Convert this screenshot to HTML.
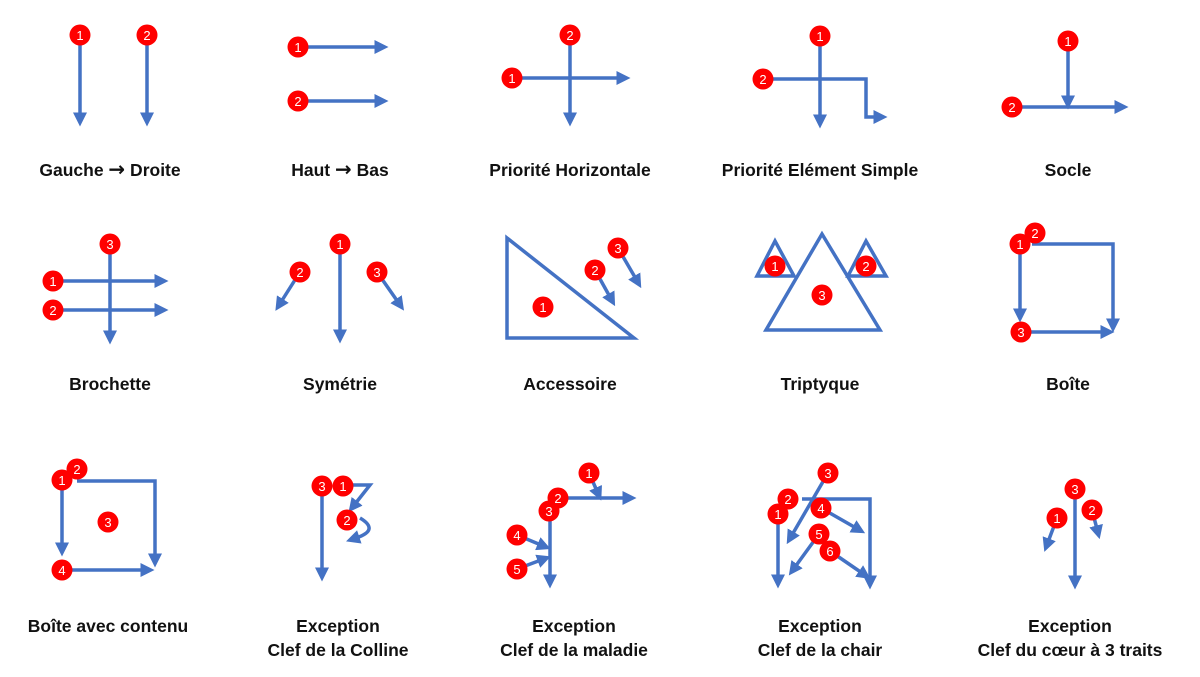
<!DOCTYPE html>
<html><head><meta charset="utf-8"><style>
html,body{margin:0;padding:0;background:#fff;width:1200px;height:677px;overflow:hidden}
svg{display:block}
.l{fill:none;stroke:#4472C4;stroke-width:3.5}
.t{font-family:"Liberation Sans",sans-serif;font-weight:bold;font-size:17.5px;fill:#111;text-anchor:middle}
.ar{font-family:"DejaVu Sans",sans-serif;font-size:20px;font-weight:bold}
.n{font-family:"Liberation Sans",sans-serif;font-size:13px;fill:#fff;text-anchor:middle}
</style></head><body>
<svg width="1200" height="677" viewBox="0 0 1200 677">
<defs>
<marker id="a" markerWidth="4" markerHeight="4" refX="1" refY="2" orient="auto" markerUnits="strokeWidth">
<path d="M0,0 L4,2 L0,4 z" fill="#4472C4"/></marker>
<g id="c"><circle r="10.5" fill="#f00"/></g>
</defs>
<g class="l" marker-end="url(#a)">
<path d="M80,44V116"/><path d="M147,44V116"/>
<path d="M298,47H378"/><path d="M298,101H378"/>
<path d="M570,40V116"/><path d="M512,78H620"/>
<path d="M820,40V118"/><path d="M763,79H866V117H877"/>
<path d="M1068,41V99"/><path d="M1012,107H1118"/>
<path d="M110,244V334"/><path d="M53,281H158"/><path d="M53,310H158"/>
<path d="M340,244V333"/><path d="M300,272L281,302"/><path d="M377,272L398,302"/>
<path d="M595,270L610,297"/><path d="M618,248L636,279"/>
<path d="M1020,250V312"/><path d="M1032,244H1113V322"/><path d="M1021,332H1104"/>
<path d="M62,480V546"/><path d="M77,481H155V557"/><path d="M62,570H144"/>
<path d="M322,486V571"/><path d="M350,485H370L355,504"/><path d="M360,518Q380,530 356,538"/>
<path d="M589,473L597,491"/><path d="M565,498H626"/><path d="M550,511V578"/><path d="M517,535L541,545"/><path d="M517,569L541,560"/>
<path d="M828,473L792,535"/><path d="M778,514V578"/><path d="M802,499H870V579"/><path d="M821,508L856,528"/><path d="M819,534L795,567"/><path d="M830,551L862,573"/>
<path d="M1075,489V579"/><path d="M1057,518L1048,542"/><path d="M1092,510L1097,529"/>
</g>
<g class="l">
<path d="M507,238V338H634Z"/>
<path d="M822,234L766,330H880Z"/>
<path d="M775,241L757,276H794Z"/>
<path d="M866,241L848,276H886Z"/>
</g>
<g>
<use href="#c" x="80" y="35"/><use href="#c" x="147" y="35"/>
<use href="#c" x="298" y="47"/><use href="#c" x="298" y="101"/>
<use href="#c" x="570" y="35"/><use href="#c" x="512" y="78"/>
<use href="#c" x="820" y="36"/><use href="#c" x="763" y="79"/>
<use href="#c" x="1068" y="41"/><use href="#c" x="1012" y="107"/>
<use href="#c" x="110" y="244"/><use href="#c" x="53" y="281"/><use href="#c" x="53" y="310"/>
<use href="#c" x="340" y="244"/><use href="#c" x="300" y="272"/><use href="#c" x="377" y="272"/>
<use href="#c" x="543" y="307"/><use href="#c" x="595" y="270"/><use href="#c" x="618" y="248"/>
<use href="#c" x="775" y="266"/><use href="#c" x="866" y="266"/><use href="#c" x="822" y="295"/>
<use href="#c" x="1035" y="233"/><use href="#c" x="1020" y="244"/><use href="#c" x="1021" y="332"/>
<use href="#c" x="77" y="469"/><use href="#c" x="62" y="480"/><use href="#c" x="108" y="522"/><use href="#c" x="62" y="570"/>
<use href="#c" x="322" y="486"/><use href="#c" x="343" y="486"/><use href="#c" x="347" y="520"/>
<use href="#c" x="589" y="473"/><use href="#c" x="558" y="498"/><use href="#c" x="549" y="511"/><use href="#c" x="517" y="535"/><use href="#c" x="517" y="569"/>
<use href="#c" x="828" y="473"/><use href="#c" x="788" y="499"/><use href="#c" x="778" y="514"/><use href="#c" x="821" y="508"/><use href="#c" x="819" y="534"/><use href="#c" x="830" y="551"/>
<use href="#c" x="1075" y="489"/><use href="#c" x="1057" y="518"/><use href="#c" x="1092" y="510"/>
</g>
<g class="n">
<text x="80" y="40">1</text><text x="147" y="40">2</text>
<text x="298" y="52">1</text><text x="298" y="106">2</text>
<text x="570" y="40">2</text><text x="512" y="83">1</text>
<text x="820" y="41">1</text><text x="763" y="84">2</text>
<text x="1068" y="46">1</text><text x="1012" y="112">2</text>
<text x="110" y="249">3</text><text x="53" y="286">1</text><text x="53" y="315">2</text>
<text x="340" y="249">1</text><text x="300" y="277">2</text><text x="377" y="277">3</text>
<text x="543" y="312">1</text><text x="595" y="275">2</text><text x="618" y="253">3</text>
<text x="775" y="271">1</text><text x="866" y="271">2</text><text x="822" y="300">3</text>
<text x="1035" y="238">2</text><text x="1020" y="249">1</text><text x="1021" y="337">3</text>
<text x="77" y="474">2</text><text x="62" y="485">1</text><text x="108" y="527">3</text><text x="62" y="575">4</text>
<text x="322" y="491">3</text><text x="343" y="491">1</text><text x="347" y="525">2</text>
<text x="589" y="478">1</text><text x="558" y="503">2</text><text x="549" y="516">3</text><text x="517" y="540">4</text><text x="517" y="574">5</text>
<text x="828" y="478">3</text><text x="788" y="504">2</text><text x="778" y="519">1</text><text x="821" y="513">4</text><text x="819" y="539">5</text><text x="830" y="556">6</text>
<text x="1075" y="494">3</text><text x="1057" y="523">1</text><text x="1092" y="515">2</text>
</g>
<g class="t">
<text x="110" y="176">Gauche <tspan class="ar">→</tspan> Droite</text>
<text x="340" y="176">Haut <tspan class="ar">→</tspan> Bas</text>
<text x="570" y="176">Priorité Horizontale</text>
<text x="820" y="176">Priorité Elément Simple</text>
<text x="1068" y="176">Socle</text>
<text x="110" y="390">Brochette</text>
<text x="340" y="390">Symétrie</text>
<text x="570" y="390">Accessoire</text>
<text x="820" y="390">Triptyque</text>
<text x="1068" y="390">Boîte</text>
<text x="108" y="632">Boîte avec contenu</text>
<text x="338" y="632">Exception</text><text x="338" y="656">Clef de la Colline</text>
<text x="574" y="632">Exception</text><text x="574" y="656">Clef de la maladie</text>
<text x="820" y="632">Exception</text><text x="820" y="656">Clef de la chair</text>
<text x="1070" y="632">Exception</text><text x="1070" y="656">Clef du cœur à 3 traits</text>
</g>
</svg>
</body></html>
